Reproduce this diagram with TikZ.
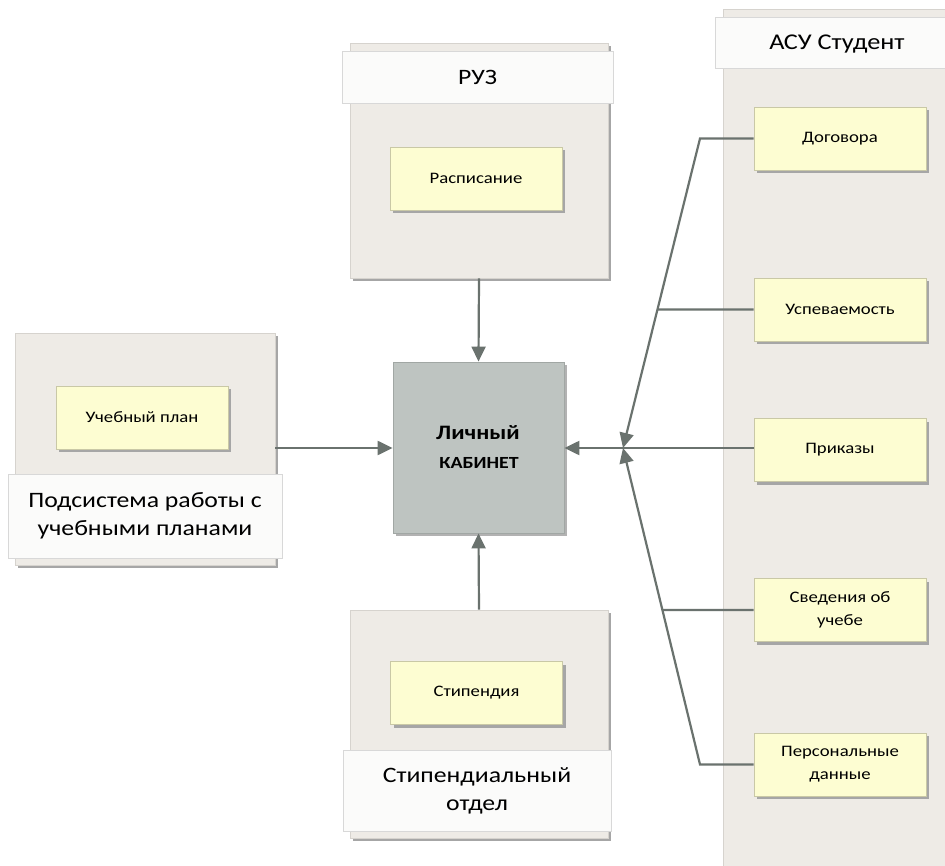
\documentclass[tikz,border=0pt]{standalone}
\usepackage{fontspec}
\setmainfont{Carlito}[FakeStretch=1.17]
\usetikzlibrary{arrows.meta,shadows,calc}
\definecolor{contfill}{HTML}{EEEBE6}
\definecolor{contdraw}{HTML}{D6D3CE}
\definecolor{hdrfill}{HTML}{FBFBFA}
\definecolor{hdrdraw}{HTML}{D8D8D8}
\definecolor{itemfill}{HTML}{FDFDD2}
\definecolor{itemdraw}{HTML}{C9C8A6}
\definecolor{lkfill}{HTML}{BEC4C1}
\definecolor{linecol}{HTML}{6A726E}
\tikzset{
  cont/.style={draw=contdraw, fill=contfill, line width=0.8pt, inner sep=0pt,
    drop shadow={shadow xshift=3pt, shadow yshift=-3pt, fill=black!35, opacity=1}},
  hdr/.style={draw=hdrdraw, fill=hdrfill, line width=0.8pt, inner sep=0pt, align=center,
    font=\fontsize{22}{28}\selectfont},
  item/.style={draw=itemdraw, fill=itemfill, line width=0.8pt, inner sep=0pt, align=center,
    minimum width=172pt, minimum height=63pt, font=\fontsize{16}{23}\selectfont,
    drop shadow={shadow xshift=3pt, shadow yshift=-3pt, fill=black!35, opacity=1}},
  lkbox/.style={draw=lkfill!85!black, fill=lkfill, line width=0.8pt, inner sep=0pt, align=center,
    minimum width=171pt, minimum height=171pt,
    drop shadow={shadow xshift=3pt, shadow yshift=-3pt, fill=black!30, opacity=1}},
  conn/.style={draw=linecol, line width=2.2pt},
  arr/.style={conn, -{Triangle[length=15pt,width=14pt]}}
}
\begin{document}
\begin{tikzpicture}[x=1pt,y=-1pt]
\useasboundingbox[fill=white] (0,0) rectangle (945,866);
% right container
\node[cont, minimum width=240pt, minimum height=880pt] (asu) at (843,449) {};
\node[hdr, minimum width=250pt, minimum height=51pt, anchor=north west] (asuh) at (715,17) {};
\node at (837,44) {\fontsize{22.5}{28}\selectfont АСУ Студент};
% RUZ
\node[cont, minimum width=258pt, minimum height=235pt] (ruz) at (479,160.5) {};
\node[hdr, minimum width=271pt, minimum height=52pt] (ruzh) at (477.5,77) {РУЗ};
\node[item] (rasp) at (476,178.5) {Расписание};
% left
\node[cont, minimum width=260pt, minimum height=232pt] (uch) at (145,449) {};
\node[hdr, minimum width=274pt, minimum height=84pt] (uchh) at (145,516) {Подсистема работы с\\учебными планами};
\node[item] (plan) at (142,417.5) {Учебный план};
% bottom
\node[cont, minimum width=258pt, minimum height=228pt] (stp) at (479,724) {};
\node[hdr, minimum width=268pt, minimum height=81pt] (stph) at (477,790.5) {Стипендиальный\\отдел};
\node[item] (stip) at (476.5,693) {Стипендия};
% LK
\node[lkbox] (lk) at (478.5,447.5) {};
\node[font=\bfseries\fontsize{20.5}{24}\selectfont] (lk1) at (478,433) {Личный};
\node[font=\bfseries\fontsize{17}{20}\selectfont] (lk2) at (479,463) {КАБИНЕТ};
% ASU items
\node[item] (dog) at (840,138.5) {Договора};
\node[item] (usp) at (840,309.5) {Успеваемость};
\node[item] (pri) at (840,450) {Приказы};
\node[item] (sved) at (840,610) {Сведения об\\учебе};
\node[item] (pers) at (840,764.5) {Персональные\\данные};
% connectors
\draw[arr] (ruz.south) -- (lk.north);
\draw[arr] (stp.north) -- (lk.south);
\draw[arr] (uch.east |- 0,448) -- (lk.west |- 0,448);
\coordinate (j) at (623,448);
\coordinate (dk) at (700,138.5);
\coordinate (pk) at (700,764.5);
\draw[arr] (pri.west |- j) -- (lk.east |- j);
\draw[arr] (dog.west) -- (dk) -- (j);
\draw[arr] (pers.west) -- (pk) -- (j);
\coordinate (ul) at (usp.west -| lk.east);
\coordinate (sl) at (sved.west -| lk.east);
\draw[conn] (usp.west) -- (intersection of dk--j and usp.west--ul);
\draw[conn] (sved.west) -- (intersection of pk--j and sved.west--sl);
\end{tikzpicture}
\end{document}
